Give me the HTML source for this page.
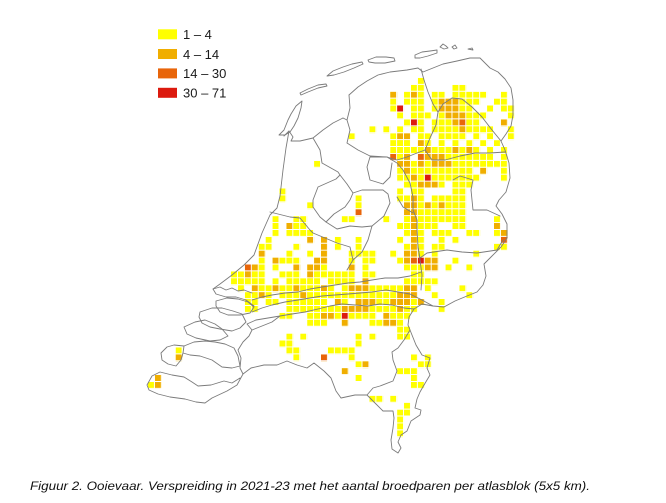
<!DOCTYPE html>
<html>
<head>
<meta charset="utf-8">
<style>
  html,body{margin:0;padding:0;background:#fff;}
  svg{display:block;}
  .lg{font-family:"Liberation Sans",sans-serif;font-size:13px;fill:#1a1a1a;}
  .cap{font-family:"Liberation Sans",sans-serif;font-size:11.5px;font-style:italic;fill:#111;}
</style>
</head>
<body>
<svg width="666" height="503" viewBox="0 0 666 503" xmlns="http://www.w3.org/2000/svg">
  <rect width="666" height="503" fill="#fff"/>

  <g transform="translate(9.58 8.82) scale(6.92 6.91)">
    <!-- all occupied cells (yellow base) -->
    <path fill="#ffff00" d="
M59 10h1v1h-1z
M58 11h2v1h-2zM64 11h2v1h-2z
M55 12h1v1h-1zM57 12h3v1h-3zM61 12h2v1h-2zM64 12h5v1h-5zM71 12h1v1h-1z
M55 13h1v1h-1zM57 13h3v1h-3zM61 13h7v1h-7zM70 13h2v1h-2z
M55 14h2v1h-2zM58 14h2v1h-2zM61 14h6v1h-6zM69 14h1v1h-1zM71 14h2v1h-2z
M56 15h1v1h-1zM58 15h3v1h-3zM62 15h7v1h-7zM72 15h1v1h-1z
M57 16h3v1h-3zM61 16h7v1h-7zM71 16h1v1h-1z
M52 17h1v1h-1zM54 17h1v1h-1zM56 17h1v1h-1zM58 17h2v1h-2zM61 17h9v1h-9zM72 17h1v1h-1z
M49 18h1v1h-1zM55 18h3v1h-3zM59 18h2v1h-2zM62 18h4v1h-4zM67 18h1v1h-1zM69 18h1v1h-1zM72 18h1v1h-1z
M55 19h3v1h-3zM59 19h2v1h-2zM62 19h1v1h-1zM64 19h1v1h-1zM66 19h1v1h-1zM68 19h1v1h-1zM70 19h1v1h-1z
M55 20h13v1h-13zM69 20h1v1h-1zM71 20h1v1h-1z
M55 21h3v1h-3zM59 21h11v1h-11zM71 21h1v1h-1z
M44 22h1v1h-1zM56 22h16v1h-16z
M56 23h11v1h-11zM68 23h1v1h-1zM71 23h1v1h-1z
M56 24h12v1h-12zM71 24h1v1h-1z
M57 25h6v1h-6zM64 25h3v1h-3z
M39 26h1v1h-1zM56 26h1v1h-1zM58 26h2v1h-2zM64 26h2v1h-2z
M39 27h1v1h-1zM50 27h1v1h-1zM56 27h4v1h-4zM61 27h5v1h-5z
M43 28h1v1h-1zM50 28h1v1h-1zM57 28h9v1h-9z
M50 29h1v1h-1zM57 29h9v1h-9z
M38 30h1v1h-1zM41 30h2v1h-2zM48 30h2v1h-2zM54 30h1v1h-1zM57 30h9v1h-9zM70 30h1v1h-1z
M38 31h1v1h-1zM40 31h3v1h-3zM56 31h6v1h-6zM64 31h2v1h-2zM70 31h1v1h-1z
M38 32h1v1h-1zM40 32h4v1h-4zM57 32h3v1h-3zM61 32h3v1h-3zM66 32h2v1h-2zM70 32h2v1h-2z
M37 33h1v1h-1zM43 33h1v1h-1zM45 33h1v1h-1zM47 33h1v1h-1zM50 33h1v1h-1zM56 33h1v1h-1zM58 33h2v1h-2zM62 33h1v1h-1zM64 33h1v1h-1zM71 33h1v1h-1z
M36 34h2v1h-2zM41 34h1v1h-1zM45 34h1v1h-1zM47 34h1v1h-1zM50 34h1v1h-1zM57 34h3v1h-3zM61 34h2v1h-2zM70 34h2v1h-2z
M36 35h1v1h-1zM40 35h1v1h-1zM43 35h1v1h-1zM45 35h1v1h-1zM49 35h4v1h-4zM55 35h1v1h-1zM57 35h3v1h-3zM61 35h1v1h-1zM67 35h1v1h-1z
M36 36h1v1h-1zM38 36h4v1h-4zM44 36h2v1h-2zM49 36h1v1h-1zM51 36h2v1h-2zM56 36h6v1h-6zM64 36h1v1h-1z
M34 37h3v1h-3zM38 37h1v1h-1zM41 37h1v1h-1zM43 37h3v1h-3zM49 37h1v1h-1zM51 37h1v1h-1zM57 37h5v1h-5zM63 37h1v1h-1zM66 37h1v1h-1z
M32 38h5v1h-5zM39 38h3v1h-3zM43 38h7v1h-7zM51 38h2v1h-2zM58 38h2v1h-2z
M32 39h5v1h-5zM38 39h1v1h-1zM40 39h5v1h-5zM46 39h4v1h-4zM51 39h1v1h-1zM57 39h5v1h-5z
M33 40h1v1h-1zM35 40h12v1h-12zM48 40h11v1h-11zM60 40h1v1h-1zM65 40h1v1h-1z
M34 41h4v1h-4zM39 41h20v1h-20zM61 41h1v1h-1zM66 41h1v1h-1z
M34 42h2v1h-2zM37 42h2v1h-2zM40 42h6v1h-6zM47 42h2v1h-2zM50 42h10v1h-10zM62 42h1v1h-1z
M34 43h2v1h-2zM40 43h19v1h-19zM62 43h1v1h-1z
M39 44h2v1h-2zM43 44h10v1h-10zM54 44h4v1h-4z
M43 45h3v1h-3zM48 45h1v1h-1zM52 45h5v1h-5z
M56 46h2v1h-2z
M40 47h1v1h-1zM42 47h1v1h-1zM50 47h1v1h-1zM52 47h1v1h-1zM56 47h2v1h-2z
M39 48h2v1h-2zM50 48h1v1h-1z
M24 49h1v1h-1zM40 49h2v1h-2zM46 49h4v1h-4z
M24 50h1v1h-1zM41 50h1v1h-1zM45 50h1v1h-1zM49 50h1v1h-1zM58 50h1v1h-1zM60 50h1v1h-1z
M50 51h2v1h-2zM59 51h2v1h-2z
M48 52h1v1h-1zM56 52h3v1h-3z
M21 53h1v1h-1zM50 53h1v1h-1zM58 53h1v1h-1z
M20 54h2v1h-2zM58 54h2v1h-2z
M52 56h2v1h-2zM55 56h1v1h-1z
M57 57h1v1h-1z
M56 58h2v1h-2z
M56 59h1v3h-1z"/>
    <!-- 4-14 orange -->
    <path fill="#f0ae00" d="
M55 12h1v1h-1zM58 12h1v1h-1z
M62 13h3v1h-3z
M62 14h3v1h-3z
M63 15h3v1h-3z
M64 16h1v1h-1zM71 16h1v1h-1z
M65 17h1v1h-1z
M56 18h2v1h-2z
M59 19h1v1h-1z
M60 20h1v1h-1zM64 20h1v1h-1zM66 20h1v1h-1z
M57 21h1v1h-1zM60 21h3v1h-3z
M56 22h2v1h-2zM59 22h1v1h-1zM61 22h3v1h-3z
M57 23h1v1h-1zM68 23h1v1h-1z
M58 24h1v1h-1z
M59 25h3v1h-3z
M58 27h1v1h-1z
M57 28h2v1h-2zM60 28h1v1h-1zM62 28h1v1h-1z
M57 29h2v1h-2z
M58 30h1v1h-1z
M40 31h1v1h-1zM58 31h1v1h-1zM70 31h1v1h-1z
M58 32h1v1h-1zM71 32h1v1h-1z
M43 33h1v1h-1zM45 33h1v1h-1zM58 33h1v1h-1z
M45 34h1v1h-1zM58 34h1v1h-1z
M36 35h1v1h-1zM45 35h1v1h-1zM57 35h2v1h-2z
M38 36h1v1h-1zM44 36h2v1h-2zM57 36h1v1h-1zM60 36h2v1h-2z
M35 37h1v1h-1zM41 37h1v1h-1zM43 37h2v1h-2zM49 37h1v1h-1zM60 37h2v1h-2z
M34 38h1v1h-1zM43 38h1v1h-1z
M51 39h1v1h-1z
M35 40h1v1h-1zM38 40h1v1h-1zM41 40h1v1h-1zM45 40h1v1h-1zM49 40h3v1h-3zM57 40h2v1h-2z
M36 41h1v1h-1zM42 41h1v1h-1zM56 41h3v1h-3z
M47 42h1v1h-1zM50 42h3v1h-3zM55 42h3v1h-3zM59 42h1v1h-1z
M48 43h4v1h-4zM56 43h1v1h-1z
M45 44h2v1h-2zM54 44h1v1h-1z
M48 45h1v1h-1zM54 45h2v1h-2z
M24 50h1v1h-1z
M51 51h1v1h-1z
M48 52h1v1h-1z
M21 53h1v1h-1z
M21 54h1v1h-1z"/>
    <!-- 14-30 dark orange -->
    <path fill="#e8650a" d="M65 16h1v1h-1zM55 21h1v1h-1zM59 21h1v1h-1zM50 29h1v1h-1zM71 33h1v1h-1zM58 36h1v1h-1zM34 37h1v1h-1zM45 50h1v1h-1z"/>
    <!-- 30-71 red -->
    <path fill="#dc1a0e" d="M56 14h1v1h-1zM58 16h1v1h-1zM60 24h1v1h-1zM59 36h1v1h-1zM48 44h1v1h-1z"/>
    <!-- white grid gaps -->
    <path fill="none" stroke="#fff" stroke-width=".14" d="M19.93 9v54m1-54v54m1-54v54m1-54v54m1-54v54m1-54v54m1-54v54m1-54v54m1-54v54m1-54v54m1-54v54m1-54v54m1-54v54m1-54v54m1-54v54m1-54v54m1-54v54m1-54v54m1-54v54m1-54v54m1-54v54m1-54v54m1-54v54m1-54v54m1-54v54m1-54v54m1-54v54m1-54v54m1-54v54m1-54v54m1-54v54m1-54v54m1-54v54m1-54v54m1-54v54m1-54v54m1-54v54m1-54v54m1-54v54m1-54v54m1-54v54m1-54v54m1-54v54m1-54v54m1-54v54m1-54v54m1-54v54m1-54v54m1-54v54m1-54v54m1-54v54m1-54v54m1-54v54m1-54v54"/>
    <path fill="none" stroke="#fff" stroke-width=".14" d="M19 9.93h56m-56 1h56m-56 1h56m-56 1h56m-56 1h56m-56 1h56m-56 1h56m-56 1h56m-56 1h56m-56 1h56m-56 1h56m-56 1h56m-56 1h56m-56 1h56m-56 1h56m-56 1h56m-56 1h56m-56 1h56m-56 1h56m-56 1h56m-56 1h56m-56 1h56m-56 1h56m-56 1h56m-56 1h56m-56 1h56m-56 1h56m-56 1h56m-56 1h56m-56 1h56m-56 1h56m-56 1h56m-56 1h56m-56 1h56m-56 1h56m-56 1h56m-56 1h56m-56 1h56m-56 1h56m-56 1h56m-56 1h56m-56 1h56m-56 1h56m-56 1h56m-56 1h56m-56 1h56m-56 1h56m-56 1h56m-56 1h56m-56 1h56m-56 1h56m-56 1h56m-56 1h56"/>
  </g>

  <!-- outlines -->
  <g fill="none" stroke="#7b7b7b" stroke-width="0.9" stroke-linejoin="round" stroke-linecap="round">
    <path d="M289 131 L286 148 L283 170 L280 196 L277 208 L270 215 L262 233 L254 255 L244 265 L232 275 L220 284 L213 289 L216 294 L226 297 L236 297 L246 300 L254 306"/>
    <path d="M213 289 L220 287 L226 290 L232 288 L238 291 L244 290 L252 293"/>
    <path d="M284 136 L289 131 L293 137 L291 141 L300 141 L313 138 L323 130 L333 123 L343 118"/>
    <path d="M313 138 L320 150 L322 163 L338 172 L340 175 L336 179 L318 187 L313 200 L313 207 L320 217 L326 222"/>
    <path d="M349 95 L350 108 L347 120 L343 118 M347 120 L350 130 L347 143 L358 150 L370 156 L387 157"/>
    <path d="M349 95 L358 87 L367 81 L378 75 L390 72 L407 70 L418 68 L423 72 L428 70 L443 64 L457 61 L470 58 L480 58 L485 63 L490 68 L498 72 L505 79 L511 88 L513 100 L513 115 L511 126 L506 134 L501 141 L505 150 L509 163 L510 178 L506 192 L499 200 L496 206 L502 214 L507 224 L507 238 L501 247 L492 256 L484 264 L486 276 L483 285 L477 292 L467 296 L455 301 L444 307 L433 306 L422 304 L414 309 L409 317 L408 325 L412 335 L416 345 L422 355 L430 358 L427 368 L430 375 L424 385 L420 392 L417 399 L415 408 L421 410 L420 415 L411 421 L407 431 L401 435 L398 442 L401 448 L398 453 L392 449 L391 440 L393 428 L394 418 L393 411 L383 411 L374 402 L367 395 L355 395 L341 398 L336 391 L331 378 L324 371 L314 363 L307 368 L297 365 L287 361 L277 365 L264 365 L251 368 L243 374 L240 368 L241 358 L238 350 L243 342 L249 336 L252 330 L247 324 L256 320"/>
    <path d="M240 378 L232 383 L224 381 L211 385 L198 386 L192 382 L184 377 L172 375 L160 372 L152 376 L147 385 L149 390 L158 394 L170 397 L185 399 L196 402 L205 403 L212 398 L227 391 L237 385 L243 374"/>
    <path d="M161 353 L167 347 L174 345 L184 346 L183 353 L181 360 L176 366 L168 364 L162 360 Z"/>
    <path d="M184 346 L194 342 L205 341 L215 342 L225 344 L234 348 L238 356 L240 366 L232 368 L222 367 L212 360 L200 356 L190 355 L183 353"/>
    <path d="M184 327 L195 322 L205 320 L215 324 L222 329 L228 336 L220 340 L210 341 L196 338 L187 334 Z"/>
    <path d="M200 312 L212 308 L222 308 L233 311 L242 314 L246 322 L240 328 L232 331 L220 329 L210 327 L202 323 L199 317 Z"/>
    <path d="M216 301 L227 298 L238 299 L248 302 L254 307 L250 313 L240 315 L228 315 L220 312 L216 306 Z"/>
    <path d="M279 135 L284 130 L288 120 L291 114 L296 106 L302 101 L301 108 L298 118 L294 126 L290 132 L285 135 Z"/>
    <path d="M300 93 L308 89 L318 85 L326 84 L327 86 L318 88 L308 92 L301 95 Z"/>
    <path d="M327 76 L333 71 L343 67 L352 64 L362 62 L363 64 L354 68 L344 72 L334 75 Z"/>
    <path d="M368 60 L376 57 L386 57 L394 58 L395 61 L385 63 L375 63 L369 62 Z"/>
    <path d="M415 55 L422 52 L430 51 L437 50 L437 53 L428 56 L420 58 L415 58 Z"/>
    <path d="M440 47 L443 44 L446 46 L448 48 L444 49 Z M452 47 L455 45 L457 48 L454 49 Z M468 49 L472 48 L473 50 Z"/>
    <!-- province borders -->
    <path d="M421 69 L424 80 L428 92 L433 104 L438 112"/>
    <path d="M438 112 L443 104 L452 98 L462 99 L472 107 L482 117 L492 130 L501 141"/>
    <path d="M438 112 L436 125 L430 138 L425 150 L417 153 L407 157 L397 160 L387 157"/>
    <path d="M425 150 L432 160 L445 160 L460 156 L475 153 L490 153 L505 152"/>
    <path d="M387 157 L370 157 L367 167 L370 180 L383 184 L390 177 L392 163"/>
    <path d="M353 193 L362 190 L383 190 L388 194 L390 203 L384 216 L372 226 L362 227 L350 226 L337 229 L326 222 L334 214 L345 207 L350 200 Z M340 175 L347 184 L353 193"/>
    <path d="M387 157 L397 163 L403 170 L410 183 L413 197 L413 210 L417 220 L417 230 L418 247 L420 260 L422 275 L421 290"/>
    <path d="M397 197 L403 207 L413 213"/>
    <path d="M418 247 L420 258 L427 253 L447 250 L462 252 L477 253 L497 250 L503 240"/>
    <path d="M453 180 L460 176 L473 180 L471 190 L473 210 L487 210 L500 216"/>
    <path d="M270 212 L290 217 L300 218 L310 230 L313 233 L337 243 L350 247 L353 260 L347 270"/>
    <path d="M372 226 L368 240 L362 252 L353 260"/>
    <path d="M421 272 L410 276 L398 278 L385 278 L372 280 L360 282 L348 283 L335 285 L322 287 L310 289 L298 292 L285 293 L272 295 L262 297 L252 300"/>
    <path d="M433 306 L422 300 L410 294 L398 292 L386 290 L372 292 L360 293 L348 294 L335 295 L322 296 L310 298 L298 300 L285 302 L272 305 L262 308 L252 312"/>
    <path d="M414 309 L404 308 L392 305 L380 304 L368 306 L355 305 L342 304 L330 306 L318 309 L305 312 L292 314 L280 316 L268 318 L256 320"/>
    <path d="M410 330 L404 340 L398 348 L392 352 L393 360 L397 371 L393 381 L380 386 L373 388 L367 395"/>
    <path d="M252 330 L262 326 L272 322 L280 316"/>
  </g>

  <!-- legend -->
  <rect x="158" y="29.3" width="19" height="10" fill="#ffff00"/>
  <rect x="158" y="49" width="19" height="10" fill="#f0ae00"/>
  <rect x="158" y="68.4" width="19" height="10" fill="#e8650a"/>
  <rect x="158" y="87.8" width="19" height="10" fill="#dc1a0e"/>
  <text class="lg" x="183" y="39.2">1 – 4</text>
  <text class="lg" x="183" y="58.8">4 – 14</text>
  <text class="lg" x="183" y="78">14 – 30</text>
  <text class="lg" x="183" y="97.3">30 – 71</text>

  <!-- caption -->
  <text class="cap" x="30" y="490" textLength="560" lengthAdjust="spacingAndGlyphs">Figuur 2. Ooievaar. Verspreiding in 2021-23 met het aantal broedparen per atlasblok (5x5 km).</text>
</svg>
</body>
</html>
